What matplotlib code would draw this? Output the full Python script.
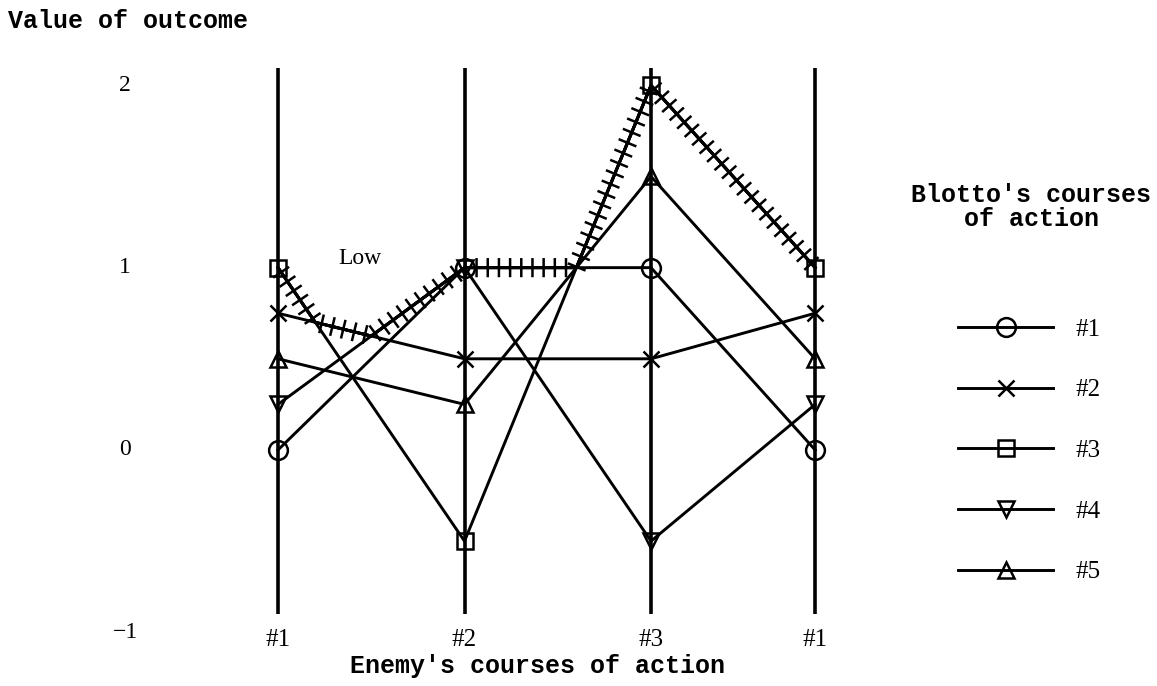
import numpy as np
import matplotlib
matplotlib.use("Agg")
import matplotlib.pyplot as plt
import matplotlib.patheffects as pe

# Enemy's courses of action (the last column repeats #1)
enemy_labels = ["#1", "#2", "#3", "#1"]
enemy_pos = [0.0, 1.0, 2.0, 2.88]

# Blotto's courses of action: value of outcome against each enemy course
blotto_labels = ["#1", "#2", "#3", "#4", "#5"]
val_1 = [0, 1, 1, 0]
val_2 = [0.75, 0.5, 0.5, 0.75]
val_3 = [1, -0.5, 2, 1]
val_4 = [0.25, 1, -0.5, 0.25]
val_5 = [0.5, 0.25, 1.5, 0.5]
markers = ["o", "x", "s", "v", "^"]

y_ticks = [2, 1, 0, -1]

MONO = "Liberation Mono"
SERIF = "Liberation Serif"


def upper_envelope(xs, series):
    # exact upper envelope of the piecewise linear lines
    Y = np.array(series, dtype=float)
    ex, ey = [], []
    for i in range(len(xs) - 1):
        a = Y[:, i]
        b = Y[:, i + 1]
        ts = [0.0, 1.0]
        for j in range(len(a)):
            for k in range(j + 1, len(a)):
                d = (a[j] - a[k]) - (b[j] - b[k])
                if d != 0:
                    t = (a[j] - a[k]) / d
                    if 0 < t < 1:
                        ts.append(t)
        for t in sorted(set(ts)):
            if i > 0 and t == 0.0:
                continue
            ex.append(xs[i] + t * (xs[i + 1] - xs[i]))
            ey.append(np.max(a + t * (b - a)))
    return ex, ey


fig = plt.figure(figsize=(11.57, 6.86), dpi=100)
ax = fig.add_axes([0, 0, 1, 1])
ax.set_xlim(-1.4906, 4.713)
ax.set_ylim(-1.2946, 2.468)
ax.axis("off")

# vertical lines for the enemy's courses
ax.vlines(enemy_pos, -0.9, 2.095, color="black", lw=2.6, zorder=1)

series = [val_1, val_2, val_3, val_4, val_5]
for vals, m, lab in zip(series, markers, blotto_labels):
    ms = 13.5 if m == "o" else 11.5
    ax.plot(enemy_pos, vals, color="black", lw=2.1, marker=m, ms=ms,
            mew=1.8, mec="black", fillstyle="none", label=lab, zorder=2)

# hatched upper envelope
ex, ey = upper_envelope(enemy_pos, series)
ax.plot(ex, ey, color="black", lw=2.1, zorder=3,
        path_effects=[pe.withTickedStroke(spacing=8, angle=90, length=0.75, linewidth=1.8),
                      pe.withTickedStroke(spacing=8, angle=-90, length=0.75, linewidth=1.8),
                      pe.Normal()])

ax.text(0.44, 1.05, "Low", family=SERIF, fontsize=17, ha="center", va="center")

# y tick labels
for v in y_ticks:
    lab = "\u2212" + str(abs(v)) if v < 0 else str(v)
    ax.text(-0.82, v, lab, family=SERIF, fontsize=17, ha="center", va="center")

# x tick labels
for x, lab in zip(enemy_pos, enemy_labels):
    ax.text(x, -1.045, lab, family=SERIF, fontsize=18, ha="center", va="center")

ax.text(-1.45, 2.355, "Value of outcome", family=MONO, fontweight="bold",
        fontsize=18, ha="left", va="center")
ax.text(1.39, -1.185, "Enemy's courses of action", family=MONO, fontweight="bold",
        fontsize=18, ha="center", va="center")

# legend
ax.text(1031 / 1157, 1 - 207 / 686, "Blotto's courses\nof action", transform=fig.transFigure,
        family=MONO, fontweight="bold", fontsize=18, ha="center", va="center",
        linespacing=1.0)
ax.legend(loc="upper left", bbox_to_anchor=(958 / 1157, 1 - 318 / 686),
          bbox_transform=fig.transFigure, frameon=False, borderpad=0, borderaxespad=0,
          handlelength=3.8, handletextpad=0.9, labelspacing=1.53,
          prop={"family": SERIF, "size": 18})

fig.savefig("out.png", dpi=100)
